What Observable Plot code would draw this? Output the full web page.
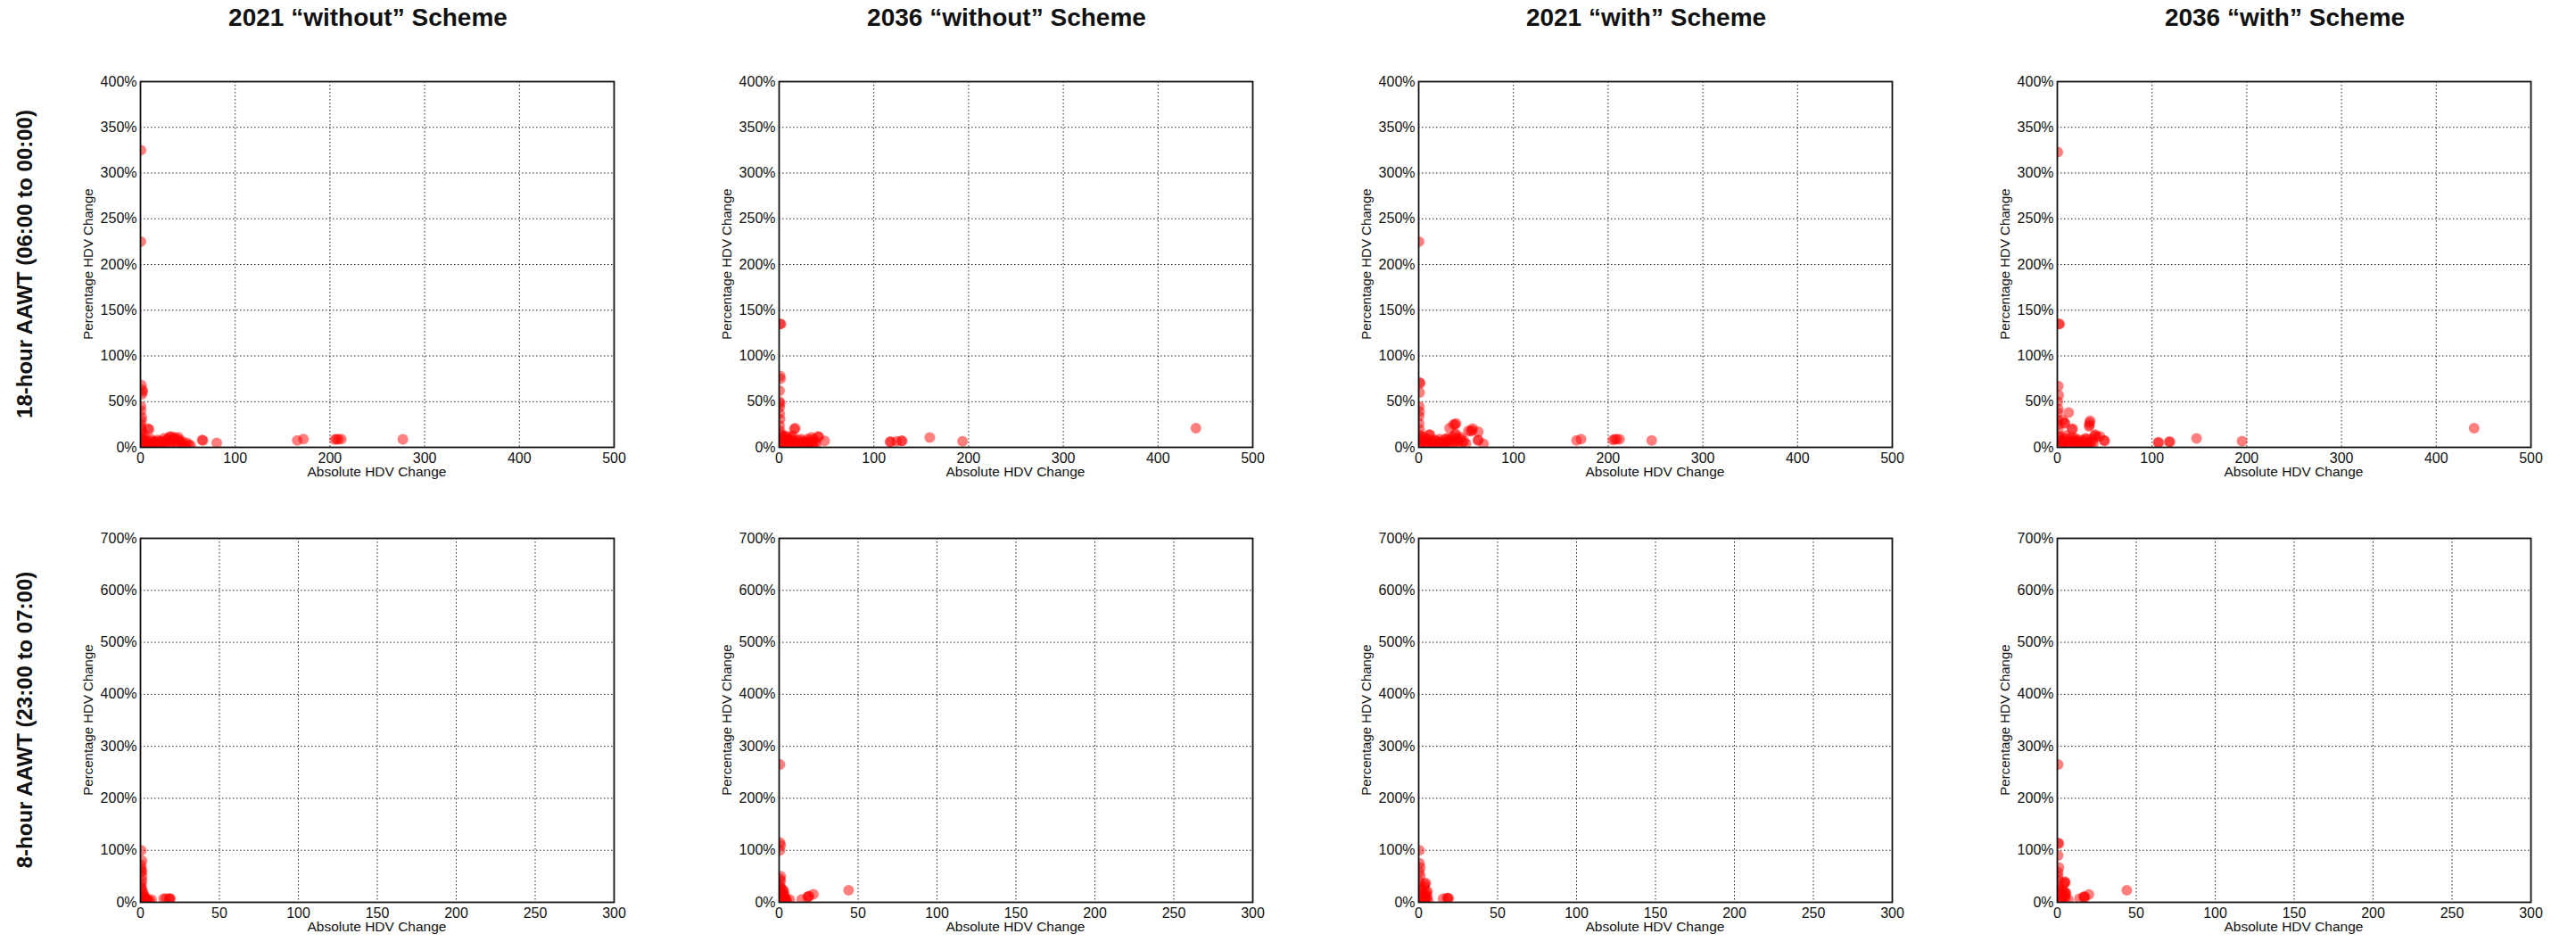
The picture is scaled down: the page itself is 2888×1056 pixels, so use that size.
<!DOCTYPE html>
<html>
<head>
<meta charset="utf-8">
<script src="https://cdn.jsdelivr.net/npm/d3@7"></script>
<script src="https://cdn.jsdelivr.net/npm/@observablehq/plot@0.6"></script>
<style>
  html, body { margin: 0; padding: 0; background: #fff; }
  #figure { position: relative; width: 2888px; height: 1056px; overflow: hidden;
            font-family: "Liberation Sans", Arial, sans-serif; color: #111; }
  .col-title { position: absolute; width: 600px; text-align: center; font-weight: bold;
               font-size: 28px; line-height: 28px; white-space: nowrap; }
  .row-title { position: absolute; font-weight: bold; font-size: 24px; line-height: 24px;
               white-space: nowrap; transform: translate(-50%, -50%) rotate(-90deg); }
  .ylab { position: absolute; font-size: 15px; line-height: 15px; white-space: nowrap;
          transform: translate(-50%, -50%) rotate(-90deg); }
  .xlab { position: absolute; font-size: 15.5px; line-height: 16px; white-space: nowrap;
          transform: translate(-50%, -50%); }
  .panel { position: absolute; }
</style>
</head>
<body>
<div id="figure"></div>
<script>
// Column and row headings
const scenarios = ["2021 \u201cwithout\u201d Scheme", "2036 \u201cwithout\u201d Scheme",
                   "2021 \u201cwith\u201d Scheme", "2036 \u201cwith\u201d Scheme"];
const periods = ["18-hour AAWT (06:00 to 00:00)", "8-hour AAWT (23:00 to 07:00)"];
const xLabel = "Absolute HDV Change";
const yLabel = "Percentage HDV Change";

// Axis ticks per period row
const xTicks18 = [0, 100, 200, 300, 400, 500];
const yTicks18 = [0, 50, 100, 150, 200, 250, 300, 350, 400];
const xTicks8 = [0, 50, 100, 150, 200, 250, 300];
const yTicks8 = [0, 100, 200, 300, 400, 500, 600, 700];

// [absolute HDV change, percentage HDV change] per link
const aawt18_2021_without = [
  [0.5, 325], [0.5, 225], [1, 68], [2, 63], [2.5, 61], [1.5, 58], [0.5, 45], [1.5, 33],
  [0.5, 25], [1, 18], [0.5, 12], [1, 8], [2, 5], [0.5, 3], [3, 15], [2, 10],
  [8, 20.5], [9, 19.5], [4.5, 5], [6, 3], [10, 7], [12, 4], [14, 6], [16, 6.5],
  [19.5, 5], [22, 3], [25, 10], [27, 8], [30.7, 11.4], [32, 12], [34, 10], [37, 7],
  [40, 11], [42, 5], [44, 6.5], [47, 3], [51, 3], [53, 2], [18, 8], [24, 2], [35, 3],
  [28, 5], [38, 9], [3, 2], [5, 9], [7, 6], [9, 2], [11, 9], [13, 3], [15, 1],
  [17, 3], [21, 7], [23, 6], [26, 4], [29, 9], [31, 2], [33, 7], [36, 11], [39, 4],
  [41, 8], [45, 2], [49, 5], [0.5, 40], [1, 29], [0.5, 21],
  [65, 8], [66, 7.5], [80.5, 5], [165.5, 7.5], [172, 9],
  [205, 8.5], [207, 9], [209, 8.8], [212, 9], [277, 8.8]
];
const aawt18_2036_without = [
  [1, 135], [2, 135], [1, 78], [1.5, 75], [0.5, 62], [0.5, 50], [1, 48], [0.5, 44],
  [1, 31], [0.5, 24], [1, 18], [2, 14], [0.5, 9], [1, 5], [2.5, 2], [17, 21], [16, 20],
  [4, 12], [6, 10], [8, 12], [10, 7], [12, 9], [14, 13], [5, 4], [9, 3], [13, 6],
  [16, 2], [18, 5], [20, 8], [22, 4], [25, 7], [27, 3], [30, 9], [32, 5], [34, 11],
  [36, 2], [38, 6], [41, 12], [42, 11.5], [48, 7], [28, 1],
  [3, 7], [5, 13], [7, 2], [9, 8], [11, 4], [13, 11], [15, 7], [19, 2], [21, 6],
  [23, 9], [26, 5], [29, 6], [31, 3], [33, 8], [35, 5], [37, 9], [39, 3], [0.5, 37],
  [117, 6], [118, 6.2], [124, 6.5], [129, 7], [130, 7], [159, 10.7], [193.6, 6.5], [440, 21]
];
const aawt18_2021_with = [
  [0.5, 225], [1.5, 70], [1, 71], [1, 60], [0.5, 45], [1, 39], [0.5, 34], [1, 19.5],
  [0.5, 14], [1, 9], [2, 5], [0.5, 2], [3, 12], [12, 13.7], [11, 14], [32.6, 21],
  [36.6, 25], [39.4, 26], [38.5, 25], [38.6, 13.7], [39, 15], [52.5, 18], [56.5, 18.5],
  [55, 17.5], [57, 20.5], [63, 17], [62.5, 7.5], [63, 8], [68.4, 4],
  [5, 6], [7, 3], [9, 9], [14, 5], [17, 8], [20, 4], [23, 6], [26, 3], [28, 9], [30, 10],
  [32, 5], [34, 8], [36, 3], [40, 10], [42, 7], [44, 9], [46, 5], [48, 7], [18, 2],
  [3, 8], [6, 11], [8, 5], [11, 2], [13, 8], [15, 3], [19, 7], [22, 9], [25, 5],
  [27, 2], [29, 6], [31, 8], [35, 11], [37, 6], [41, 4], [45, 11], [50, 4], [0.5, 26],
  [166.7, 7.5], [171.4, 9], [205, 8], [207, 8.8], [209, 9], [212, 8.8], [246, 7.5]
];
const aawt18_2036_with = [
  [0.5, 323], [1.5, 135], [2.5, 135], [1, 67], [1.5, 57], [0.5, 50], [1, 42], [0.5, 30],
  [1, 20], [0.5, 12], [2, 7], [1, 3], [12, 38], [5.6, 30], [7.6, 27], [8, 26],
  [16, 20.5], [15.5, 19.5], [34.7, 29], [34, 27], [34, 24.4], [33.5, 23], [39.5, 13],
  [40, 14], [41.5, 11.4], [45, 12], [49.4, 7.5], [50, 7],
  [4, 8], [6, 5], [8, 10], [10, 3], [12, 9], [14, 6], [16, 11], [18, 4], [20, 7],
  [22, 2], [24, 5], [27, 8], [29, 3], [31, 9], [33, 5], [35, 2], [37, 7], [38, 4],
  [3, 12], [5, 2], [7, 7], [9, 13], [11, 5], [13, 2], [17, 8], [19, 10], [21, 4],
  [23, 8], [25, 2], [28, 6], [30, 10], [32, 2], [36, 9], [0.5, 38], [1, 25],
  [106.5, 5.5], [107, 5], [118, 6], [119, 6.2], [147, 9.8], [195, 6.8], [440, 21]
];
const aawt8_2021_without = [
  [0.5, 100], [1, 80], [0.5, 65], [1, 60], [0.5, 58], [1, 41], [0.5, 30], [1, 21],
  [0.5, 14], [1.5, 10], [2, 6], [1, 3], [3, 8], [4, 7], [4.5, 4], [5, 3], [3, 2],
  [7, 5], [0.5, 72], [1, 50], [0.5, 36], [1, 26], [2, 17], [2.5, 12], [6, 2],
  [14.6, 7], [16, 7.5], [18, 7], [18.5, 6.5], [19, 7.5]
];
const aawt8_2036_without = [
  [0.5, 265], [0.5, 115], [1, 110], [0.5, 100], [1, 50], [0.5, 45], [1, 41], [0.5, 33],
  [3, 21], [2.5, 24], [2, 15], [3.5, 12], [4.3, 7], [4, 5], [5, 3], [2, 4], [1, 9],
  [0.5, 28], [1, 18], [1.5, 26], [3, 16], [4, 2], [2, 10],
  [6.7, 5], [14.3, 5.7], [18, 10], [18.5, 11], [19, 12], [21.7, 15.4], [44, 23]
];
const aawt8_2021_with = [
  [0.5, 100], [0.5, 75], [1, 67], [1, 50], [0.5, 40], [4.5, 37], [4, 35], [3.6, 30],
  [5.5, 21], [5, 19], [4.5, 14], [4, 10], [5, 6], [3, 4], [2, 12], [1.5, 20], [1, 8],
  [0.5, 3], [6, 3], [0.5, 58], [1, 30], [2, 25], [3, 16], [5.5, 11], [4, 2],
  [15.5, 7], [18, 8], [18.5, 8], [19, 7.5]
];
const aawt8_2036_with = [
  [0.5, 265], [0.5, 114], [1, 113], [0.5, 90], [1, 67], [0.5, 50], [1, 41], [0.5, 30],
  [4.8, 39.4], [4.3, 36.6], [5, 38], [5.3, 16.6], [4.8, 12.6], [5.5, 18], [4, 10],
  [3, 6], [2, 14], [1.5, 22], [1, 4], [7, 5], [0.5, 58], [1, 20], [3, 25], [4.5, 21],
  [5, 8], [2, 2], [14, 7], [16.7, 10], [17, 11], [17.5, 9.5], [20, 15], [44, 23]
];

const rows = [
  {xTicks: xTicks18, yTicks: yTicks18,
   series: [aawt18_2021_without, aawt18_2036_without, aawt18_2021_with, aawt18_2036_with]},
  {xTicks: xTicks8, yTicks: yTicks8,
   series: [aawt8_2021_without, aawt8_2036_without, aawt8_2021_with, aawt8_2036_with]}
];

// Page layout (pixels)
const colLeft = [157, 873, 1590, 2306];
const panelW = 531;
const rowTop = [91, 603];
const rowH = [410, 408];
const mL = 110, mR = 20, mT = 12, mB = 50;

const fig = document.getElementById("figure");

function addDiv(cls, text, css) {
  const el = document.createElement("div");
  el.className = cls;
  el.textContent = text;
  Object.assign(el.style, css);
  fig.appendChild(el);
  return el;
}

scenarios.forEach((t, c) => {
  addDiv("col-title", t, {left: (colLeft[c] + panelW / 2 - 10 - 300) + "px", top: "6px"});
});
periods.forEach((t, r) => {
  addDiv("row-title", t, {left: "28px", top: (rowTop[r] + rowH[r] / 2) + "px"});
});

rows.forEach((row, r) => {
  const h = rowH[r];
  const xMax = row.xTicks[row.xTicks.length - 1];
  const yMax = row.yTicks[row.yTicks.length - 1];
  row.series.forEach((data, c) => {
    // dotted grid, as in a classic scientific plot
    const grid = {stroke: "#000", strokeOpacity: 0.85, strokeWidth: 1, strokeDasharray: "1.5,2.5"};
    const svg = Plot.plot({
      width: panelW + mL + mR,
      height: h + mT + mB,
      marginLeft: mL, marginRight: mR, marginTop: mT, marginBottom: mB,
      style: {background: "transparent", fontFamily: "'Liberation Sans', Arial, sans-serif",
              fontSize: "16px", color: "#111", overflow: "visible"},
      x: {domain: [0, xMax], label: null},
      y: {domain: [0, yMax], label: null},
      marks: [
        Plot.gridX(row.xTicks, grid),
        Plot.gridY(row.yTicks, grid),
        Plot.dot(data, {x: d => d[0], y: d => d[1], r: 6, fill: "red",
                        fillOpacity: 0.5, stroke: "none", clip: true}),
        Plot.frame({stroke: "#111", strokeWidth: 1.8}),
        Plot.axisX(row.xTicks, {tickSize: 0, tickPadding: 6, tickFormat: d => String(d), label: null}),
        Plot.axisY(row.yTicks, {tickSize: 0, tickPadding: 4, tickFormat: d => d + "%", label: null})
      ]
    });
    svg.classList.add("panel");
    svg.style.left = (colLeft[c] - mL) + "px";
    svg.style.top = (rowTop[r] - mT) + "px";
    fig.appendChild(svg);

    addDiv("ylab", yLabel, {left: (colLeft[c] - 59) + "px", top: (rowTop[r] + h / 2) + "px"});
    addDiv("xlab", xLabel, {left: (colLeft[c] + panelW / 2) + "px", top: (rowTop[r] + h + 28) + "px"});
  });
});
</script>
</body>
</html>
